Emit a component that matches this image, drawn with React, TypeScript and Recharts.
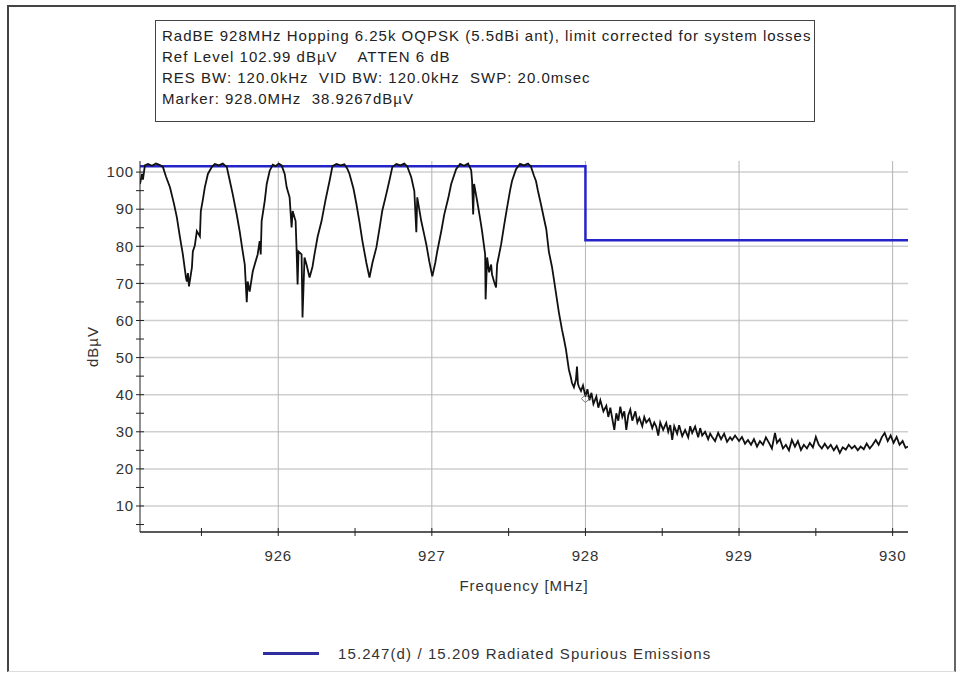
import {
  CartesianGrid,
  ComposedChart,
  Line,
  ReferenceDot,
  XAxis,
  YAxis,
} from "recharts"

// spectrum analyzer sweep
const freqMHz = [
  925.100, 925.113, 925.119, 925.132, 925.152, 925.178, 925.204, 925.230, 925.249, 925.269,
  925.295, 925.321, 925.340, 925.360, 925.379, 925.399, 925.405, 925.412, 925.419, 925.438,
  925.444, 925.457, 925.470, 925.490, 925.496, 925.509, 925.522, 925.542, 925.568, 925.587,
  925.613, 925.639, 925.665, 925.684, 925.704, 925.730, 925.749, 925.769, 925.782, 925.795,
  925.801, 925.814, 925.834, 925.853, 925.866, 925.879, 925.886, 925.892, 925.912, 925.925,
  925.944, 925.964, 925.983, 926.003, 926.022, 926.042, 926.055, 926.074, 926.087, 926.094,
  926.113, 926.119, 926.126, 926.132, 926.152, 926.158, 926.171, 926.184, 926.204, 926.223,
  926.236, 926.256, 926.282, 926.308, 926.334, 926.353, 926.379, 926.405, 926.431, 926.451,
  926.464, 926.490, 926.509, 926.529, 926.548, 926.574, 926.594, 926.613, 926.639, 926.658,
  926.677, 926.703, 926.723, 926.743, 926.769, 926.795, 926.821, 926.840, 926.866, 926.886,
  926.899, 926.905, 926.918, 926.931, 926.951, 926.964, 926.983, 927.003, 927.022, 927.035,
  927.061, 927.081, 927.107, 927.126, 927.158, 927.184, 927.210, 927.236, 927.256, 927.262,
  927.269, 927.275, 927.295, 927.314, 927.327, 927.347, 927.350, 927.360, 927.373, 927.386,
  927.392, 927.405, 927.418, 927.425, 927.451, 927.470, 927.490, 927.509, 927.522, 927.548,
  927.574, 927.600, 927.626, 927.645, 927.665, 927.678, 927.691, 927.710, 927.730, 927.745,
  927.762, 927.782, 927.795, 927.815, 927.827, 927.847, 927.860, 927.873, 927.892, 927.906,
  927.912, 927.925, 927.938, 927.945, 927.951, 927.957, 927.971, 927.984, 928.000, 928.013,
  928.026, 928.039, 928.052, 928.071, 928.084, 928.097, 928.117, 928.136, 928.149, 928.162,
  928.175, 928.188, 928.201, 928.214, 928.227, 928.240, 928.253, 928.266, 928.279, 928.292,
  928.305, 928.325, 928.338, 928.351, 928.370, 928.383, 928.396, 928.416, 928.435, 928.448,
  928.461, 928.474, 928.487, 928.506, 928.526, 928.539, 928.552, 928.565, 928.578, 928.597,
  928.610, 928.630, 928.649, 928.669, 928.682, 928.695, 928.714, 928.734, 928.747, 928.760,
  928.779, 928.799, 928.812, 928.825, 928.844, 928.864, 928.883, 928.903, 928.922, 928.942,
  928.955, 928.974, 929.000, 929.019, 929.039, 929.058, 929.078, 929.097, 929.117, 929.136,
  929.156, 929.175, 929.195, 929.214, 929.234, 929.247, 929.266, 929.286, 929.305, 929.325,
  929.344, 929.364, 929.383, 929.403, 929.422, 929.442, 929.461, 929.481, 929.500, 929.519,
  929.539, 929.558, 929.578, 929.597, 929.617, 929.636, 929.656, 929.675, 929.695, 929.714,
  929.734, 929.753, 929.773, 929.792, 929.812, 929.831, 929.851, 929.870, 929.890, 929.909,
  929.929, 929.948, 929.968, 929.987, 930.006, 930.026, 930.045, 930.065, 930.084, 930.100,
]

const levelDbuV = [
  96.8, 99.5, 98.0, 101.8, 102.2, 101.7, 102.3, 101.9, 101.4, 98.8,
  95.9, 91.5, 87.8, 82.5, 77.8, 71.6, 70.5, 72.8, 69.2, 74.3,
  78.6, 80.2, 84.1, 82.7, 89.5, 92.5, 95.9, 99.5, 101.4, 102.2,
  101.8, 102.3, 101.4, 97.8, 94.0, 88.5, 84.0, 78.5, 75.1, 64.9,
  70.5, 67.8, 73.2, 76.0, 77.8, 81.4, 77.8, 86.8, 92.2, 96.8,
  100.3, 102.0, 101.6, 102.3, 101.8, 99.5, 95.9, 93.2, 85.1, 89.5,
  86.8, 79.7, 69.7, 78.6, 77.8, 60.8, 77.0, 75.1, 71.6, 74.5,
  77.8, 82.5, 86.8, 92.5, 97.6, 101.6, 102.2, 101.8, 102.1, 100.8,
  99.5, 95.5, 91.4, 86.5, 81.4, 75.5, 71.6, 75.5, 79.7, 84.5,
  89.5, 94.0, 97.6, 101.4, 102.2, 101.8, 102.3, 101.5, 98.6, 94.9,
  83.8, 93.2, 90.0, 86.8, 83.0, 80.5, 76.0, 71.9, 75.5, 78.6,
  84.0, 88.6, 93.0, 96.8, 100.8, 102.2, 101.7, 102.3, 100.5, 97.6,
  88.6, 96.8, 92.2, 87.5, 84.1, 77.8, 65.7, 77.0, 73.0, 75.1,
  72.4, 70.5, 68.9, 75.1, 80.5, 85.5, 90.5, 95.0, 97.6, 100.8,
  102.2, 101.8, 102.3, 101.5, 99.0, 97.6, 94.9, 91.4, 87.5, 84.6,
  78.5, 74.5, 71.0, 65.5, 62.2, 57.6, 55.0, 52.2, 46.8, 44.5,
  43.2, 42.0, 44.0, 47.6, 43.0, 42.2, 41.0, 42.5, 39.5, 41.5,
  38.5, 40.5, 37.5, 39.5, 36.5, 38.5, 35.5, 37.0, 34.0, 36.5,
  33.5, 30.5, 35.0, 33.0, 36.8, 34.0, 35.5, 30.5, 34.5, 36.0,
  33.0, 35.5, 32.5, 33.8, 31.5, 34.0, 32.5, 33.5, 31.0, 32.5,
  31.4, 29.0, 32.5, 30.5, 32.4, 30.0, 31.8, 27.8, 31.5, 29.5,
  31.8, 28.8, 30.5, 28.5, 31.5, 29.7, 31.4, 28.5, 31.0, 29.0,
  30.0, 28.0, 29.5, 28.6, 27.5, 29.7, 28.0, 29.5, 27.3, 28.5,
  27.8, 29.0, 27.5, 28.6, 26.8, 27.8, 26.5, 28.0, 26.0, 27.5,
  26.5, 28.5, 27.0, 25.5, 29.7, 27.0, 28.0, 25.5, 26.5, 25.0,
  27.8, 26.0, 27.5, 25.1, 26.5, 25.5, 27.0, 25.8, 28.6, 26.5,
  25.5, 26.8, 25.5, 26.5, 25.0, 26.2, 24.3, 25.8, 25.2, 26.5,
  25.5, 26.2, 25.0, 26.0, 25.3, 26.8, 25.5, 26.5, 27.8, 26.5,
  28.5, 29.7, 27.5, 29.0, 27.0, 28.6, 26.5, 27.5, 25.7, 26.0,
]

// 15.247(d) limit, stepped down 20 dB at 928 MHz
const limitFreq = [925.1, 928.0, 928.0, 930.1]
const limitLevel = [101.6, 101.6, 81.6, 81.6]

const markerFreq = 928.0
const markerLevel = 38.9267

const xTicks = [925.5, 926, 926.5, 927, 927.5, 928, 928.5, 929, 929.5, 930]
const xGrid = [926, 927, 928, 929, 930]
const yTicks = [5, 10, 15, 20, 25, 30, 35, 40, 45, 50, 55, 60, 65, 70, 75, 80, 85, 90, 95, 100]
const yGrid = [10, 20, 30, 40, 50, 60, 70, 80, 90, 100]

const headerLines = [
  "RadBE 928MHz Hopping 6.25k OQPSK (5.5dBi ant), limit corrected for system losses",
  "Ref Level 102.99 dBµV    ATTEN 6 dB",
  "RES BW: 120.0kHz  VID BW: 120.0kHz  SWP: 20.0msec",
  "Marker: 928.0MHz  38.9267dBµV",
]

const legendLabel = "15.247(d) / 15.209 Radiated Spurious Emissions"

const traceData = freqMHz.map((f, i) => ({ f, level: levelDbuV[i] }))
const limitData = limitFreq.map((f, i) => ({ f, limit: limitLevel[i] }))

const FONT = '"Liberation Sans", Arial, sans-serif'
const TICK_SIZE = 4
const TICK_MARGIN = 2
const LIMIT_BLUE = "#2424c8"

function XTick(props: any) {
  const { x, y, payload } = props
  const axisY = y - TICK_SIZE - TICK_MARGIN
  const major = Number.isInteger(payload.value)
  return (
    <g>
      <line x1={x} x2={x} y1={axisY - 4} y2={axisY + 4} stroke="#222" />
      {major && (
        <text
          x={x}
          y={axisY + 29}
          textAnchor="middle"
          fontSize={15}
          letterSpacing={0.8}
          fill="#333"
          fontFamily={FONT}
        >
          {payload.value}
        </text>
      )}
    </g>
  )
}

function YTick(props: any) {
  const { x, y, payload } = props
  const axisX = x + TICK_SIZE + TICK_MARGIN
  const major = payload.value % 10 === 0
  return (
    <g>
      <line x1={axisX - 4} x2={axisX + 4} y1={y} y2={y} stroke="#222" />
      {major && (
        <text
          x={axisX - 6}
          y={y}
          dy="0.35em"
          textAnchor="end"
          fontSize={15}
          letterSpacing={0.8}
          fill="#333"
          fontFamily={FONT}
        >
          {payload.value}
        </text>
      )}
    </g>
  )
}

function Diamond(props: any) {
  const { cx, cy } = props
  return (
    <polygon
      points={`${cx},${cy - 4} ${cx + 4},${cy} ${cx},${cy + 4} ${cx - 4},${cy}`}
      fill="none"
      stroke="#777"
      strokeWidth={1}
    />
  )
}

export default function App() {
  return (
    <div style={{ position: "absolute", left: 0, top: 0, width: 967, height: 675, background: "#fff", fontFamily: FONT }}>
      <div
        style={{
          position: "absolute",
          left: 7,
          top: 5,
          width: 949,
          height: 667,
          borderLeft: "2px solid #444",
          borderTop: "2px solid #444",
          borderRight: "2px solid #666",
          borderBottom: "1px solid #ddd",
          boxSizing: "border-box",
        }}
      />
      <div
        style={{
          position: "absolute",
          left: 155,
          top: 20,
          width: 660,
          height: 102,
          border: "1.5px solid #444",
          boxSizing: "border-box",
          padding: "4px 0 0 6px",
          fontSize: 15,
          letterSpacing: 1,
          lineHeight: "21px",
          color: "#222",
          whiteSpace: "pre",
          overflow: "hidden",
        }}
      >
        {headerLines.map((line) => (
          <div key={line}>{line}</div>
        ))}
      </div>

      <div style={{ position: "absolute", left: 0, top: 0 }}>
        <ComposedChart width={967} height={675} margin={{ top: 161, right: 59, left: 80, bottom: 78 }}>
          <CartesianGrid
            vertical={false}
            horizontalValues={yGrid}
            stroke="#cfcfcf"
            strokeWidth={1.5}
          />
          <CartesianGrid horizontal={false} verticalValues={xGrid} stroke="#b4b4b4" />
          <XAxis
            dataKey="f"
            type="number"
            domain={[925.1, 930.1]}
            allowDataOverflow
            ticks={xTicks}
            interval={0}
            tickSize={TICK_SIZE}
            tickMargin={TICK_MARGIN}
            tickLine={false}
            tick={<XTick />}
            height={65}
            axisLine={{ stroke: "#222", strokeWidth: 1.5 }}
            label={{
              value: "Frequency [MHz]",
              position: "insideBottom",
              offset: 6,
              fill: "#333",
              fontSize: 15,
              letterSpacing: 1,
              fontFamily: FONT,
            }}
          />
          <XAxis
            xAxisId="top"
            orientation="top"
            type="number"
            domain={[925.1, 930.1]}
            height={0}
            tick={false}
            tickLine={false}
            axisLine={{ stroke: "#9a9a9a" }}
          />
          <YAxis
            type="number"
            domain={[2.99, 102.99]}
            allowDataOverflow
            ticks={yTicks}
            interval={0}
            tickSize={TICK_SIZE}
            tickMargin={TICK_MARGIN}
            tickLine={false}
            tick={<YTick />}
            width={60}
            axisLine={{ stroke: "#222" }}
            label={{
              value: "dBµV",
              angle: -90,
              position: "insideLeft",
              offset: 13,
              fill: "#333",
              fontSize: 15,
              letterSpacing: 1,
              fontFamily: FONT,
              style: { textAnchor: "middle" },
            }}
          />
          <YAxis
            yAxisId="right"
            orientation="right"
            type="number"
            domain={[2.99, 102.99]}
            width={0}
            tick={false}
            tickLine={false}
            axisLine={{ stroke: "#555", strokeWidth: 2 }}
          />
          <Line
            data={limitData}
            dataKey="limit"
            type="linear"
            stroke={LIMIT_BLUE}
            strokeWidth={2.5}
            dot={false}
            isAnimationActive={false}
          />
          <Line
            data={traceData}
            dataKey="level"
            type="linear"
            stroke="#111"
            strokeWidth={1.8}
            dot={false}
            isAnimationActive={false}
          />
          <ReferenceDot x={markerFreq} y={markerLevel} shape={<Diamond />} />
        </ComposedChart>
      </div>

      <div style={{ position: "absolute", left: 263, top: 643, display: "flex", alignItems: "center", height: 20 }}>
        <div style={{ width: 56, height: 3, background: "#2e2e9e" }} />
        <span style={{ marginLeft: 19, fontSize: 15, letterSpacing: 1.1, color: "#333", whiteSpace: "pre" }}>
          {legendLabel}
        </span>
      </div>
    </div>
  )
}
